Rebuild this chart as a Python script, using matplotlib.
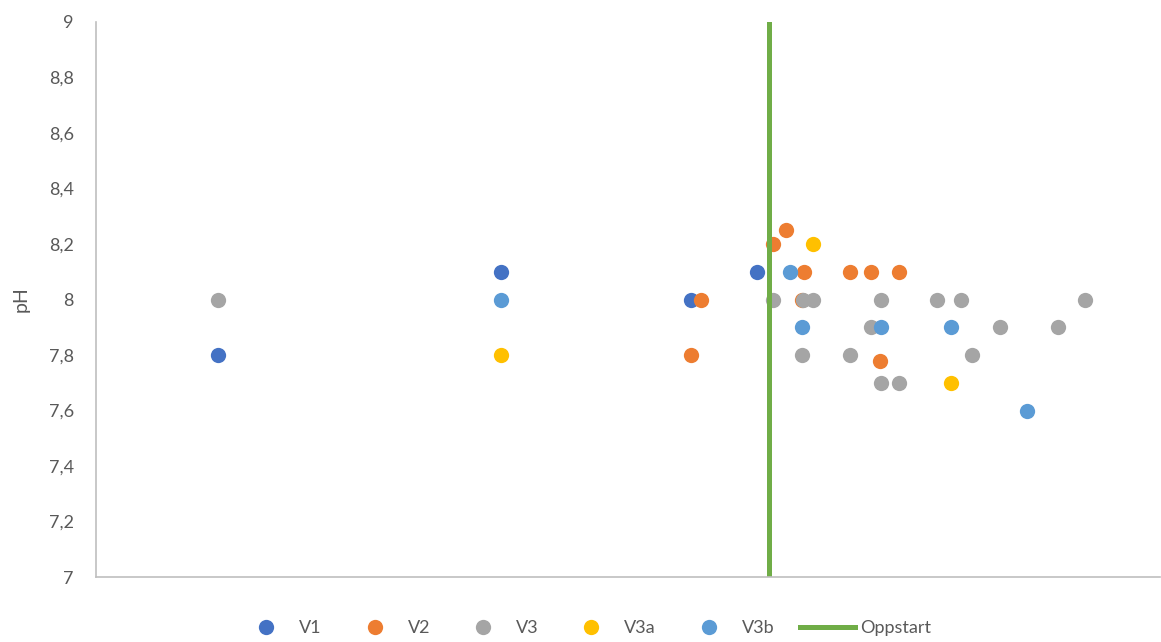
import matplotlib
matplotlib.use("Agg")
import matplotlib.pyplot as plt

plt.rcParams['font.family'] = ['Lato', 'DejaVu Sans']

# dager (relativ tid) og pH for hver serie
v1_dag = [40.7, 135.3, 198.7, 220.7]
v1_ph = [7.8, 8.1, 8.0, 8.1]

v2_dag = [202.0, 198.7, 226.0, 230.3, 236.3, 235.7, 251.7, 258.7, 268.0, 261.7]
v2_ph = [8.0, 7.8, 8.2, 8.25, 8.1, 8.0, 8.1, 8.1, 8.1, 7.78]

v3_dag = [40.7, 226.0, 236.0, 239.3, 235.7, 251.7, 258.7, 262.0, 262.0, 268.0,
          280.7, 288.7, 301.7, 292.3, 321.0, 330.0]
v3_ph = [8.0, 8.0, 8.0, 8.0, 7.8, 7.8, 7.9, 8.0, 7.7, 7.7,
         8.0, 8.0, 7.9, 7.8, 7.9, 8.0]

v3a_dag = [135.3, 239.3, 285.3]
v3a_ph = [7.8, 8.2, 7.7]

v3b_dag = [135.3, 231.7, 235.7, 262.0, 285.3, 310.7]
v3b_ph = [8.0, 8.1, 7.9, 7.9, 7.9, 7.6]

oppstart_dag = 224.7

serier = [
    ("V1", v1_dag, v1_ph, "#4472C4"),
    ("V2", v2_dag, v2_ph, "#ED7D31"),
    ("V3", v3_dag, v3_ph, "#A5A5A5"),
    ("V3a", v3a_dag, v3a_ph, "#FFC000"),
    ("V3b", v3b_dag, v3b_ph, "#5B9BD5"),
]

fig = plt.figure(figsize=(11.61, 6.42), dpi=100)
ax = fig.add_axes([96 / 1161, 1 - 577 / 642, 1 - 96 / 1161 - 0.001, (577 - 22) / 642])

for navn, x, y, farge in serier:
    ax.plot(x, y, 'o', color=farge, ms=11, mec='none', label=navn)

ax.axvline(oppstart_dag, color="#70AD47", lw=3.6, label="Oppstart")

ax.set_xlim(0, 355)
ax.set_ylim(7, 9)
ax.set_yticks([7 + 0.2 * i for i in range(11)])
ax.set_yticklabels([f"{7 + 0.2 * i:.1f}".replace(".", ",").replace(",0", "") for i in range(11)])
ax.set_xticks([])
ax.tick_params(axis='y', length=0, pad=16, labelsize=13, labelcolor="#595959")
ax.set_ylabel("pH", fontsize=14, color="#595959", labelpad=14)

for s in ["top", "right"]:
    ax.spines[s].set_visible(False)
for s in ["left", "bottom"]:
    ax.spines[s].set_color("#BFBFBF")
    ax.spines[s].set_linewidth(1.2)

fig.legend(loc="center", bbox_to_anchor=(585 / 1161, 1 - 628 / 642), ncol=6,
           frameon=False, fontsize=13, labelcolor="#595959",
           handlelength=3.05, handletextpad=0.3, columnspacing=1.4)

fig.savefig("out.png", dpi=100)
